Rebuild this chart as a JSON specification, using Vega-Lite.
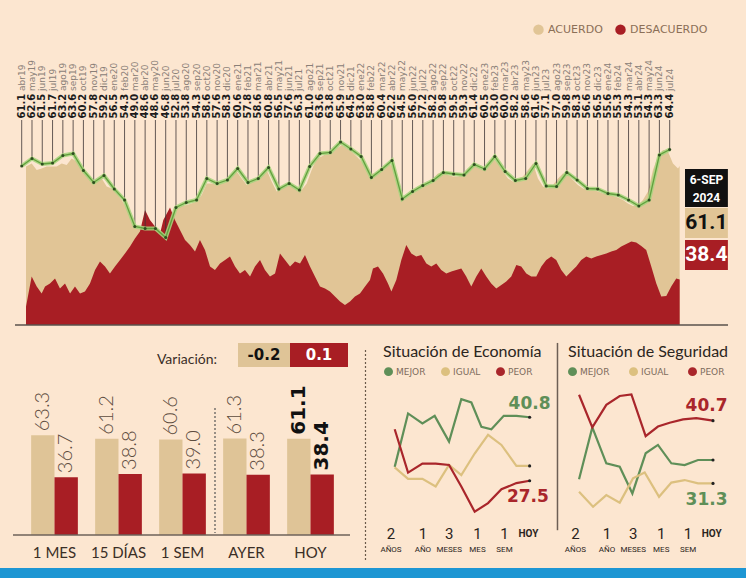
{
"$schema": "https://vega.github.io/schema/vega-lite/v6.json",
"padding": 0,
"background": "#fce6d0",
"config": {"view": {"stroke": null}, "concat": {"spacing": 0}, "axis": {"disable": true}},
"datasets": {
"hoy": [{"fecha": "6-SEP", "anio": "2024", "acuerdo": 61.1, "desacuerdo": 38.4, "var_acuerdo": "-0.2", "var_desacuerdo": "0.1"}],
"mensual": [
{"mes":"abr19","t":0,"acuerdo":61.1},{"mes":"may19","t":1,"acuerdo":62.6},{"mes":"jun19","t":2,"acuerdo":61.5},{"mes":"jul19","t":3,"acuerdo":61.7},{"mes":"ago19","t":4,"acuerdo":63.2},{"mes":"sep19","t":5,"acuerdo":63.6},{"mes":"oct19","t":6,"acuerdo":60.2},{"mes":"nov19","t":7,"acuerdo":57.8},{"mes":"dic19","t":8,"acuerdo":59.2},{"mes":"ene20","t":9,"acuerdo":56.5},{"mes":"feb20","t":10,"acuerdo":54.3},{"mes":"mar20","t":11,"acuerdo":49.0},{"mes":"abr20","t":12,"acuerdo":48.6},{"mes":"may20","t":13,"acuerdo":48.6},{"mes":"jun20","t":14,"acuerdo":46.8},{"mes":"jul20","t":15,"acuerdo":52.8},{"mes":"ago20","t":16,"acuerdo":53.8},{"mes":"sep20","t":17,"acuerdo":54.3},{"mes":"oct20","t":18,"acuerdo":58.6},{"mes":"nov20","t":19,"acuerdo":57.6},{"mes":"dic20","t":20,"acuerdo":58.3},{"mes":"ene21","t":21,"acuerdo":60.6},{"mes":"feb21","t":22,"acuerdo":57.8},{"mes":"mar21","t":23,"acuerdo":58.6},{"mes":"abr21","t":24,"acuerdo":60.8},{"mes":"may21","t":25,"acuerdo":56.5},{"mes":"jun21","t":26,"acuerdo":57.6},{"mes":"jul21","t":27,"acuerdo":56.3},{"mes":"ago21","t":28,"acuerdo":61.0},{"mes":"sep21","t":29,"acuerdo":63.6},{"mes":"oct21","t":30,"acuerdo":63.8},{"mes":"nov21","t":31,"acuerdo":65.9},{"mes":"dic21","t":32,"acuerdo":64.5},{"mes":"ene22","t":33,"acuerdo":63.0},{"mes":"feb22","t":34,"acuerdo":58.8},{"mes":"mar22","t":35,"acuerdo":60.4},{"mes":"abr22","t":36,"acuerdo":62.2},{"mes":"may22","t":37,"acuerdo":54.5},{"mes":"jun22","t":38,"acuerdo":56.0},{"mes":"jul22","t":39,"acuerdo":57.2},{"mes":"ago22","t":40,"acuerdo":58.2},{"mes":"sep22","t":41,"acuerdo":59.8},{"mes":"oct22","t":42,"acuerdo":59.5},{"mes":"nov22","t":43,"acuerdo":59.3},{"mes":"dic22","t":44,"acuerdo":61.4},{"mes":"ene23","t":45,"acuerdo":60.5},{"mes":"feb23","t":46,"acuerdo":63.0},{"mes":"mar23","t":47,"acuerdo":60.0},{"mes":"abr23","t":48,"acuerdo":58.2},{"mes":"may23","t":49,"acuerdo":58.6},{"mes":"jun23","t":50,"acuerdo":61.6},{"mes":"jul23","t":51,"acuerdo":57.1},{"mes":"ago23","t":52,"acuerdo":57.0},{"mes":"sep23","t":53,"acuerdo":59.8},{"mes":"oct23","t":54,"acuerdo":58.3},{"mes":"nov23","t":55,"acuerdo":56.6},{"mes":"dic23","t":56,"acuerdo":56.5},{"mes":"ene24","t":57,"acuerdo":55.6},{"mes":"feb24","t":58,"acuerdo":55.3},{"mes":"mar24","t":59,"acuerdo":54.3},{"mes":"abr24","t":60,"acuerdo":53.1},{"mes":"may24","t":61,"acuerdo":54.3},{"mes":"jun24","t":62,"acuerdo":63.3},{"mes":"jul24","t":63,"acuerdo":64.4}
],
"diario": [
{"t":0.42,"serie":"ACUERDO","pct":61.0},{"t":0.97,"serie":"ACUERDO","pct":61.6},{"t":1.46,"serie":"ACUERDO","pct":60.3},{"t":1.94,"serie":"ACUERDO","pct":60.6},{"t":2.43,"serie":"ACUERDO","pct":61.0},{"t":2.92,"serie":"ACUERDO","pct":61.0},{"t":3.40,"serie":"ACUERDO","pct":61.0},{"t":3.89,"serie":"ACUERDO","pct":61.6},{"t":4.37,"serie":"ACUERDO","pct":61.3},{"t":4.86,"serie":"ACUERDO","pct":62.6},{"t":5.35,"serie":"ACUERDO","pct":62.0},{"t":5.83,"serie":"ACUERDO","pct":60.3},{"t":6.32,"serie":"ACUERDO","pct":59.6},{"t":6.81,"serie":"ACUERDO","pct":58.0},{"t":7.29,"serie":"ACUERDO","pct":58.0},{"t":7.78,"serie":"ACUERDO","pct":58.6},{"t":8.26,"serie":"ACUERDO","pct":57.0},{"t":8.75,"serie":"ACUERDO","pct":56.6},{"t":9.24,"serie":"ACUERDO","pct":55.6},{"t":9.72,"serie":"ACUERDO","pct":54.3},{"t":10.21,"serie":"ACUERDO","pct":52.6},{"t":10.69,"serie":"ACUERDO","pct":50.3},{"t":11.18,"serie":"ACUERDO","pct":49.0},{"t":11.67,"serie":"ACUERDO","pct":48.6},{"t":12.15,"serie":"ACUERDO","pct":49.0},{"t":12.64,"serie":"ACUERDO","pct":48.3},{"t":13.12,"serie":"ACUERDO","pct":47.6},{"t":13.61,"serie":"ACUERDO","pct":46.6},{"t":14.10,"serie":"ACUERDO","pct":48.3},{"t":14.58,"serie":"ACUERDO","pct":51.0},{"t":15.07,"serie":"ACUERDO","pct":52.6},{"t":15.56,"serie":"ACUERDO","pct":53.1},{"t":16.04,"serie":"ACUERDO","pct":53.3},{"t":16.53,"serie":"ACUERDO","pct":53.6},{"t":17.01,"serie":"ACUERDO","pct":54.0},{"t":17.50,"serie":"ACUERDO","pct":55.3},{"t":17.99,"serie":"ACUERDO","pct":57.6},{"t":18.47,"serie":"ACUERDO","pct":57.6},{"t":18.96,"serie":"ACUERDO","pct":57.3},{"t":19.44,"serie":"ACUERDO","pct":57.6},{"t":19.93,"serie":"ACUERDO","pct":58.0},{"t":20.42,"serie":"ACUERDO","pct":59.3},{"t":20.90,"serie":"ACUERDO","pct":60.0},{"t":21.39,"serie":"ACUERDO","pct":58.6},{"t":21.87,"serie":"ACUERDO","pct":57.3},{"t":22.36,"serie":"ACUERDO","pct":58.0},{"t":22.85,"serie":"ACUERDO","pct":58.3},{"t":23.33,"serie":"ACUERDO","pct":59.0},{"t":23.82,"serie":"ACUERDO","pct":60.3},{"t":24.30,"serie":"ACUERDO","pct":58.0},{"t":24.79,"serie":"ACUERDO","pct":56.0},{"t":25.28,"serie":"ACUERDO","pct":56.6},{"t":25.76,"serie":"ACUERDO","pct":57.0},{"t":26.25,"serie":"ACUERDO","pct":57.3},{"t":26.74,"serie":"ACUERDO","pct":56.6},{"t":27.22,"serie":"ACUERDO","pct":56.3},{"t":27.71,"serie":"ACUERDO","pct":57.6},{"t":28.19,"serie":"ACUERDO","pct":60.3},{"t":28.68,"serie":"ACUERDO","pct":62.6},{"t":29.17,"serie":"ACUERDO","pct":63.0},{"t":29.65,"serie":"ACUERDO","pct":63.6},{"t":30.14,"serie":"ACUERDO","pct":63.6},{"t":30.62,"serie":"ACUERDO","pct":64.6},{"t":31.11,"serie":"ACUERDO","pct":65.3},{"t":31.60,"serie":"ACUERDO","pct":64.6},{"t":32.08,"serie":"ACUERDO","pct":64.0},{"t":32.57,"serie":"ACUERDO","pct":63.0},{"t":33.05,"serie":"ACUERDO","pct":62.0},{"t":33.54,"serie":"ACUERDO","pct":60.6},{"t":34.03,"serie":"ACUERDO","pct":59.6},{"t":34.64,"serie":"ACUERDO","pct":59.6},{"t":35.13,"serie":"ACUERDO","pct":60.6},{"t":35.61,"serie":"ACUERDO","pct":61.6},{"t":36.10,"serie":"ACUERDO","pct":61.0},{"t":36.58,"serie":"ACUERDO","pct":57.0},{"t":37.07,"serie":"ACUERDO","pct":54.4},{"t":37.55,"serie":"ACUERDO","pct":55.3},{"t":38.04,"serie":"ACUERDO","pct":56.3},{"t":38.53,"serie":"ACUERDO","pct":57.0},{"t":39.01,"serie":"ACUERDO","pct":57.3},{"t":39.50,"serie":"ACUERDO","pct":58.0},{"t":39.98,"serie":"ACUERDO","pct":58.6},{"t":40.47,"serie":"ACUERDO","pct":59.6},{"t":40.96,"serie":"ACUERDO","pct":59.8},{"t":41.44,"serie":"ACUERDO","pct":59.3},{"t":41.93,"serie":"ACUERDO","pct":59.0},{"t":42.42,"serie":"ACUERDO","pct":59.0},{"t":42.90,"serie":"ACUERDO","pct":59.3},{"t":43.39,"serie":"ACUERDO","pct":60.6},{"t":43.87,"serie":"ACUERDO","pct":61.3},{"t":44.36,"serie":"ACUERDO","pct":61.0},{"t":44.85,"serie":"ACUERDO","pct":60.3},{"t":45.33,"serie":"ACUERDO","pct":61.6},{"t":45.82,"serie":"ACUERDO","pct":62.6},{"t":46.30,"serie":"ACUERDO","pct":61.6},{"t":46.79,"serie":"ACUERDO","pct":60.0},{"t":47.28,"serie":"ACUERDO","pct":58.6},{"t":47.76,"serie":"ACUERDO","pct":58.0},{"t":48.25,"serie":"ACUERDO","pct":58.6},{"t":48.74,"serie":"ACUERDO","pct":59.0},{"t":49.22,"serie":"ACUERDO","pct":60.3},{"t":49.71,"serie":"ACUERDO","pct":61.6},{"t":50.19,"serie":"ACUERDO","pct":58.6},{"t":50.68,"serie":"ACUERDO","pct":57.0},{"t":51.17,"serie":"ACUERDO","pct":56.6},{"t":51.65,"serie":"ACUERDO","pct":57.3},{"t":52.14,"serie":"ACUERDO","pct":58.6},{"t":52.62,"serie":"ACUERDO","pct":59.6},{"t":53.11,"serie":"ACUERDO","pct":59.3},{"t":53.60,"serie":"ACUERDO","pct":58.3},{"t":54.08,"serie":"ACUERDO","pct":57.3},{"t":54.57,"serie":"ACUERDO","pct":56.6},{"t":55.06,"serie":"ACUERDO","pct":56.3},{"t":55.54,"serie":"ACUERDO","pct":56.3},{"t":56.03,"serie":"ACUERDO","pct":56.0},{"t":56.51,"serie":"ACUERDO","pct":55.6},{"t":57.00,"serie":"ACUERDO","pct":55.5},{"t":57.49,"serie":"ACUERDO","pct":55.1},{"t":57.97,"serie":"ACUERDO","pct":54.8},{"t":58.46,"serie":"ACUERDO","pct":54.3},{"t":58.94,"serie":"ACUERDO","pct":53.6},{"t":59.43,"serie":"ACUERDO","pct":53.1},{"t":59.92,"serie":"ACUERDO","pct":53.3},{"t":60.40,"serie":"ACUERDO","pct":54.3},{"t":60.89,"serie":"ACUERDO","pct":56.0},{"t":61.37,"serie":"ACUERDO","pct":60.3},{"t":61.86,"serie":"ACUERDO","pct":63.0},{"t":62.35,"serie":"ACUERDO","pct":64.3},{"t":62.83,"serie":"ACUERDO","pct":64.0},{"t":63.32,"serie":"ACUERDO","pct":61.6},{"t":63.81,"serie":"ACUERDO","pct":60.6},{"t":63.97,"serie":"ACUERDO","pct":61.1},
{"t":0.42,"serie":"DESACUERDO","pct":33.0},{"t":0.97,"serie":"DESACUERDO","pct":39.0},{"t":1.46,"serie":"DESACUERDO","pct":37.0},{"t":1.94,"serie":"DESACUERDO","pct":35.6},{"t":2.27,"serie":"DESACUERDO","pct":37.0},{"t":2.75,"serie":"DESACUERDO","pct":37.6},{"t":3.24,"serie":"DESACUERDO","pct":38.6},{"t":3.72,"serie":"DESACUERDO","pct":36.6},{"t":4.21,"serie":"DESACUERDO","pct":37.6},{"t":4.70,"serie":"DESACUERDO","pct":35.6},{"t":5.18,"serie":"DESACUERDO","pct":37.0},{"t":5.67,"serie":"DESACUERDO","pct":35.6},{"t":6.15,"serie":"DESACUERDO","pct":36.0},{"t":6.64,"serie":"DESACUERDO","pct":37.6},{"t":7.13,"serie":"DESACUERDO","pct":40.3},{"t":7.61,"serie":"DESACUERDO","pct":42.0},{"t":8.10,"serie":"DESACUERDO","pct":41.0},{"t":8.58,"serie":"DESACUERDO","pct":39.6},{"t":9.07,"serie":"DESACUERDO","pct":41.0},{"t":9.56,"serie":"DESACUERDO","pct":42.3},{"t":10.04,"serie":"DESACUERDO","pct":43.6},{"t":10.53,"serie":"DESACUERDO","pct":45.0},{"t":11.01,"serie":"DESACUERDO","pct":46.6},{"t":11.50,"serie":"DESACUERDO","pct":48.0},{"t":11.99,"serie":"DESACUERDO","pct":52.3},{"t":12.47,"serie":"DESACUERDO","pct":50.3},{"t":12.96,"serie":"DESACUERDO","pct":49.0},{"t":13.45,"serie":"DESACUERDO","pct":47.6},{"t":13.77,"serie":"DESACUERDO","pct":50.3},{"t":14.42,"serie":"DESACUERDO","pct":52.8},{"t":14.90,"serie":"DESACUERDO","pct":50.3},{"t":15.39,"serie":"DESACUERDO","pct":48.3},{"t":15.88,"serie":"DESACUERDO","pct":46.3},{"t":16.36,"serie":"DESACUERDO","pct":45.3},{"t":16.85,"serie":"DESACUERDO","pct":44.0},{"t":17.33,"serie":"DESACUERDO","pct":46.3},{"t":17.82,"serie":"DESACUERDO","pct":44.3},{"t":18.31,"serie":"DESACUERDO","pct":41.0},{"t":18.79,"serie":"DESACUERDO","pct":40.3},{"t":19.28,"serie":"DESACUERDO","pct":41.6},{"t":19.77,"serie":"DESACUERDO","pct":42.3},{"t":20.25,"serie":"DESACUERDO","pct":43.0},{"t":20.74,"serie":"DESACUERDO","pct":41.0},{"t":21.22,"serie":"DESACUERDO","pct":39.6},{"t":21.71,"serie":"DESACUERDO","pct":40.3},{"t":22.20,"serie":"DESACUERDO","pct":39.0},{"t":22.68,"serie":"DESACUERDO","pct":41.0},{"t":23.17,"serie":"DESACUERDO","pct":42.3},{"t":23.65,"serie":"DESACUERDO","pct":40.3},{"t":24.14,"serie":"DESACUERDO","pct":39.0},{"t":24.63,"serie":"DESACUERDO","pct":39.6},{"t":25.11,"serie":"DESACUERDO","pct":43.6},{"t":25.60,"serie":"DESACUERDO","pct":42.3},{"t":26.09,"serie":"DESACUERDO","pct":41.0},{"t":26.57,"serie":"DESACUERDO","pct":42.0},{"t":27.06,"serie":"DESACUERDO","pct":41.6},{"t":27.54,"serie":"DESACUERDO","pct":43.3},{"t":28.03,"serie":"DESACUERDO","pct":41.0},{"t":28.51,"serie":"DESACUERDO","pct":39.0},{"t":29.00,"serie":"DESACUERDO","pct":37.0},{"t":29.49,"serie":"DESACUERDO","pct":36.6},{"t":29.97,"serie":"DESACUERDO","pct":36.0},{"t":30.46,"serie":"DESACUERDO","pct":35.0},{"t":30.95,"serie":"DESACUERDO","pct":34.0},{"t":31.43,"serie":"DESACUERDO","pct":33.3},{"t":31.92,"serie":"DESACUERDO","pct":34.0},{"t":32.40,"serie":"DESACUERDO","pct":35.0},{"t":32.89,"serie":"DESACUERDO","pct":35.6},{"t":33.38,"serie":"DESACUERDO","pct":37.0},{"t":33.86,"serie":"DESACUERDO","pct":38.3},{"t":34.15,"serie":"DESACUERDO","pct":40.6},{"t":34.64,"serie":"DESACUERDO","pct":41.0},{"t":35.13,"serie":"DESACUERDO","pct":39.6},{"t":35.61,"serie":"DESACUERDO","pct":37.6},{"t":35.94,"serie":"DESACUERDO","pct":36.0},{"t":36.42,"serie":"DESACUERDO","pct":38.3},{"t":36.91,"serie":"DESACUERDO","pct":42.3},{"t":37.39,"serie":"DESACUERDO","pct":45.3},{"t":37.88,"serie":"DESACUERDO","pct":43.6},{"t":38.36,"serie":"DESACUERDO","pct":43.0},{"t":38.85,"serie":"DESACUERDO","pct":43.3},{"t":39.34,"serie":"DESACUERDO","pct":41.6},{"t":39.82,"serie":"DESACUERDO","pct":41.0},{"t":40.31,"serie":"DESACUERDO","pct":41.6},{"t":40.79,"serie":"DESACUERDO","pct":40.3},{"t":41.28,"serie":"DESACUERDO","pct":39.6},{"t":41.77,"serie":"DESACUERDO","pct":40.0},{"t":42.25,"serie":"DESACUERDO","pct":40.3},{"t":42.74,"serie":"DESACUERDO","pct":40.6},{"t":43.22,"serie":"DESACUERDO","pct":39.0},{"t":43.71,"serie":"DESACUERDO","pct":37.0},{"t":44.20,"serie":"DESACUERDO","pct":39.0},{"t":44.68,"serie":"DESACUERDO","pct":40.6},{"t":45.17,"serie":"DESACUERDO","pct":39.0},{"t":45.65,"serie":"DESACUERDO","pct":37.6},{"t":46.14,"serie":"DESACUERDO","pct":36.6},{"t":46.63,"serie":"DESACUERDO","pct":37.3},{"t":47.11,"serie":"DESACUERDO","pct":38.0},{"t":47.60,"serie":"DESACUERDO","pct":39.0},{"t":48.09,"serie":"DESACUERDO","pct":41.3},{"t":48.57,"serie":"DESACUERDO","pct":41.0},{"t":49.06,"serie":"DESACUERDO","pct":39.6},{"t":49.54,"serie":"DESACUERDO","pct":39.0},{"t":50.03,"serie":"DESACUERDO","pct":39.0},{"t":50.52,"serie":"DESACUERDO","pct":41.0},{"t":51.00,"serie":"DESACUERDO","pct":42.3},{"t":51.49,"serie":"DESACUERDO","pct":43.0},{"t":51.97,"serie":"DESACUERDO","pct":42.3},{"t":52.46,"serie":"DESACUERDO","pct":40.3},{"t":52.95,"serie":"DESACUERDO","pct":39.0},{"t":53.43,"serie":"DESACUERDO","pct":40.0},{"t":53.92,"serie":"DESACUERDO","pct":41.0},{"t":54.40,"serie":"DESACUERDO","pct":42.3},{"t":54.89,"serie":"DESACUERDO","pct":43.0},{"t":55.38,"serie":"DESACUERDO","pct":42.6},{"t":55.86,"serie":"DESACUERDO","pct":43.0},{"t":56.35,"serie":"DESACUERDO","pct":43.3},{"t":56.84,"serie":"DESACUERDO","pct":43.6},{"t":57.32,"serie":"DESACUERDO","pct":44.0},{"t":57.81,"serie":"DESACUERDO","pct":44.3},{"t":58.29,"serie":"DESACUERDO","pct":45.0},{"t":58.78,"serie":"DESACUERDO","pct":45.5},{"t":59.27,"serie":"DESACUERDO","pct":46.0},{"t":59.75,"serie":"DESACUERDO","pct":45.8},{"t":60.24,"serie":"DESACUERDO","pct":45.1},{"t":60.72,"serie":"DESACUERDO","pct":44.3},{"t":61.21,"serie":"DESACUERDO","pct":41.0},{"t":61.70,"serie":"DESACUERDO","pct":37.6},{"t":62.18,"serie":"DESACUERDO","pct":35.0},{"t":62.67,"serie":"DESACUERDO","pct":35.1},{"t":63.15,"serie":"DESACUERDO","pct":37.0},{"t":63.64,"serie":"DESACUERDO","pct":38.6},{"t":63.97,"serie":"DESACUERDO","pct":38.4}
],
"barras": [
{"periodo":"1 MES","serie":"ACUERDO","pct":63.3},{"periodo":"1 MES","serie":"DESACUERDO","pct":36.7},
{"periodo":"15 DÍAS","serie":"ACUERDO","pct":61.2},{"periodo":"15 DÍAS","serie":"DESACUERDO","pct":38.8},
{"periodo":"1 SEM","serie":"ACUERDO","pct":60.6},{"periodo":"1 SEM","serie":"DESACUERDO","pct":39.0},
{"periodo":"AYER","serie":"ACUERDO","pct":61.3},{"periodo":"AYER","serie":"DESACUERDO","pct":38.3},
{"periodo":"HOY","serie":"ACUERDO","pct":61.1},{"periodo":"HOY","serie":"DESACUERDO","pct":38.4}
],
"economia": [
{"t":0,"opinion":"MEJOR","pct":30.4},{"t":1.09,"opinion":"MEJOR","pct":41.6},{"t":2.26,"opinion":"MEJOR","pct":39.5},{"t":3.26,"opinion":"MEJOR","pct":41.1},{"t":4.43,"opinion":"MEJOR","pct":35.7},{"t":5.43,"opinion":"MEJOR","pct":44.6},{"t":6.25,"opinion":"MEJOR","pct":43.9},{"t":7.07,"opinion":"MEJOR","pct":38.8},{"t":7.88,"opinion":"MEJOR","pct":38.3},{"t":8.89,"opinion":"MEJOR","pct":41.1},{"t":9.92,"opinion":"MEJOR","pct":41.1},{"t":11,"opinion":"MEJOR","pct":40.8},
{"t":0,"opinion":"IGUAL","pct":30.3},{"t":1.09,"opinion":"IGUAL","pct":27.9},{"t":2.26,"opinion":"IGUAL","pct":27.9},{"t":3.34,"opinion":"IGUAL","pct":26.3},{"t":4.43,"opinion":"IGUAL","pct":30.8},{"t":5.43,"opinion":"IGUAL","pct":28.7},{"t":6.52,"opinion":"IGUAL","pct":33.2},{"t":7.61,"opinion":"IGUAL","pct":37.1},{"t":8.7,"opinion":"IGUAL","pct":35.0},{"t":9.92,"opinion":"IGUAL","pct":30.6},{"t":11,"opinion":"IGUAL","pct":30.6},
{"t":0,"opinion":"PEOR","pct":38.3},{"t":1.09,"opinion":"PEOR","pct":29.2},{"t":2.26,"opinion":"PEOR","pct":31.1},{"t":3.34,"opinion":"PEOR","pct":31.1},{"t":4.43,"opinion":"PEOR","pct":30.8},{"t":5.43,"opinion":"PEOR","pct":26.3},{"t":6.52,"opinion":"PEOR","pct":21.0},{"t":7.61,"opinion":"PEOR","pct":22.8},{"t":8.7,"opinion":"PEOR","pct":25.7},{"t":9.92,"opinion":"PEOR","pct":27.0},{"t":11,"opinion":"PEOR","pct":27.5}
],
"seguridad": [
{"t":0,"opinion":"MEJOR","pct":26.7},{"t":1.09,"opinion":"MEJOR","pct":39.1},{"t":2.24,"opinion":"MEJOR","pct":30.5},{"t":3.34,"opinion":"MEJOR","pct":29.7},{"t":4.38,"opinion":"MEJOR","pct":23.3},{"t":5.47,"opinion":"MEJOR","pct":32.9},{"t":6.48,"opinion":"MEJOR","pct":34.9},{"t":7.58,"opinion":"MEJOR","pct":30.5},{"t":8.67,"opinion":"MEJOR","pct":30.1},{"t":9.77,"opinion":"MEJOR","pct":31.3},{"t":11,"opinion":"MEJOR","pct":31.3},
{"t":0,"opinion":"IGUAL","pct":23.7},{"t":1.15,"opinion":"IGUAL","pct":20.1},{"t":2.24,"opinion":"IGUAL","pct":22.9},{"t":3.34,"opinion":"IGUAL","pct":21.1},{"t":4.43,"opinion":"IGUAL","pct":26.9},{"t":5.39,"opinion":"IGUAL","pct":28.3},{"t":6.57,"opinion":"IGUAL","pct":22.5},{"t":7.58,"opinion":"IGUAL","pct":25.9},{"t":8.67,"opinion":"IGUAL","pct":26.5},{"t":9.77,"opinion":"IGUAL","pct":25.7},{"t":11,"opinion":"IGUAL","pct":25.7},
{"t":0,"opinion":"PEOR","pct":46.9},{"t":1.09,"opinion":"PEOR","pct":39.1},{"t":2.24,"opinion":"PEOR","pct":44.5},{"t":3.34,"opinion":"PEOR","pct":46.6},{"t":4.3,"opinion":"PEOR","pct":47.0},{"t":5.47,"opinion":"PEOR","pct":37.0},{"t":6.48,"opinion":"PEOR","pct":39.3},{"t":7.44,"opinion":"PEOR","pct":40.2},{"t":8.54,"opinion":"PEOR","pct":41.0},{"t":9.63,"opinion":"PEOR","pct":41.3},{"t":11,"opinion":"PEOR","pct":40.7}
],
"plazos": [
{"t":-0.3,"num":"2","unidad":"AÑOS"},{"t":2.3,"num":"1","unidad":"AÑO"},{"t":4.45,"num":"3","unidad":"MESES"},{"t":6.75,"num":"1","unidad":"MES"},{"t":8.95,"num":"1","unidad":"SEM"},{"t":10.9,"num":"HOY","unidad":""}
]
},
"spacing": 0,
"bounds": "full",
"resolve": {"scale": {"color": "independent"}, "legend": {"color": "independent"}},
"vconcat": [
{
"width": 746, "height": 335,
"layer": [
{"data": {"name": "diario"}, "transform": [{"filter": "datum.serie == 'ACUERDO'"}],
 "mark": {"type": "area"},
 "encoding": {
  "x": {"field": "t", "type": "quantitative", "scale": {"domain": [-2.11, 70.42], "nice": false, "zero": false}, "axis": null},
  "y": {"field": "pct", "type": "quantitative", "stack": null, "scale": {"domain": [27.3, 94.3], "nice": false, "zero": false}, "axis": null},
  "y2": {"datum": 29.3},
  "color": {"field": "serie", "type": "nominal", "scale": {"domain": ["ACUERDO", "DESACUERDO"], "range": ["#e1c596", "#a81e24"]},
   "legend": {"title": null, "orient": "none", "legendX": 533, "legendY": 24, "direction": "horizontal", "symbolType": "circle", "symbolSize": 110, "symbolStrokeWidth": 0, "labelFontSize": 11, "labelFont": "DejaVu Sans", "labelColor": "#8b6f57", "columnPadding": 12, "labelOffset": 4}}
 }},
{"data": {"name": "diario"}, "transform": [{"filter": "datum.serie == 'DESACUERDO'"}],
 "mark": {"type": "area"},
 "encoding": {
  "x": {"field": "t", "type": "quantitative", "axis": null},
  "y": {"field": "pct", "type": "quantitative", "stack": null, "axis": null},
  "y2": {"datum": 29.3},
  "color": {"field": "serie", "type": "nominal"}
 }},
{"data": {"name": "hoy"}, "mark": {"type": "rule", "color": "#5a524c", "strokeWidth": 1.5},
 "encoding": {"x": {"datum": -0.65, "type": "quantitative", "axis": null}, "x2": {"datum": 68.67}, "y": {"datum": 29.3, "type": "quantitative", "axis": null}}},
{"data": {"name": "mensual"}, "mark": {"type": "rule", "color": "#3d3535", "strokeWidth": 0.8},
 "encoding": {"x": {"field": "t", "type": "quantitative", "axis": null}, "y": {"field": "acuerdo", "type": "quantitative", "axis": null}, "y2": {"datum": 70.3}}},
{"data": {"name": "mensual"}, "mark": {"type": "line", "color": "#a9d47e", "strokeWidth": 4, "opacity": 0.9},
 "encoding": {"x": {"field": "t", "type": "quantitative", "axis": null}, "y": {"field": "acuerdo", "type": "quantitative", "axis": null}}},
{"data": {"name": "mensual"}, "mark": {"type": "line", "color": "#62a03e", "strokeWidth": 1.3},
 "encoding": {"x": {"field": "t", "type": "quantitative", "axis": null}, "y": {"field": "acuerdo", "type": "quantitative", "axis": null}}},
{"data": {"name": "mensual"}, "mark": {"type": "point", "filled": true, "color": "#2e4d1f", "size": 9, "opacity": 1},
 "encoding": {"x": {"field": "t", "type": "quantitative", "axis": null}, "y": {"field": "acuerdo", "type": "quantitative", "axis": null}}},
{"data": {"name": "mensual"}, "mark": {"type": "text", "angle": 270, "align": "left", "baseline": "middle", "font": "DejaVu Sans", "fontWeight": "bold", "fontSize": 10, "color": "#1c1c1c"},
 "encoding": {"x": {"field": "t", "type": "quantitative", "axis": null}, "y": {"datum": 70.6, "type": "quantitative", "axis": null}, "text": {"field": "acuerdo", "type": "quantitative", "format": ".1f"}}},
{"data": {"name": "mensual"}, "mark": {"type": "text", "angle": 270, "align": "left", "baseline": "middle", "font": "DejaVu Sans", "fontSize": 9, "color": "#8a8078"},
 "encoding": {"x": {"field": "t", "type": "quantitative", "axis": null}, "y": {"datum": 76.1, "type": "quantitative", "axis": null}, "text": {"field": "mes", "type": "nominal"}}},
{"data": {"name": "hoy"}, "mark": {"type": "rect", "color": "#111111"},
 "encoding": {"x": {"datum": 64.49, "type": "quantitative", "axis": null}, "x2": {"datum": 68.66}, "y": {"datum": 60.5, "type": "quantitative", "axis": null}, "y2": {"datum": 52.9}}},
{"data": {"name": "hoy"}, "mark": {"type": "rect", "color": "#e1c596"},
 "encoding": {"x": {"datum": 64.49, "type": "quantitative", "axis": null}, "x2": {"datum": 68.66}, "y": {"datum": 52.7, "type": "quantitative", "axis": null}, "y2": {"datum": 46.7}}},
{"data": {"name": "hoy"}, "mark": {"type": "rect", "color": "#a81e24"},
 "encoding": {"x": {"datum": 64.49, "type": "quantitative", "axis": null}, "x2": {"datum": 68.66}, "y": {"datum": 46.3, "type": "quantitative", "axis": null}, "y2": {"datum": 40.3}}},
{"data": {"name": "hoy"}, "mark": {"type": "text", "align": "center", "baseline": "middle", "font": "Roboto", "fontWeight": "bold", "fontSize": 12, "color": "#ffffff"},
 "encoding": {"x": {"datum": 66.57, "type": "quantitative", "axis": null}, "y": {"datum": 58.3, "type": "quantitative", "axis": null}, "text": {"field": "fecha", "type": "nominal"}}},
{"data": {"name": "hoy"}, "mark": {"type": "text", "align": "center", "baseline": "middle", "font": "Roboto", "fontWeight": "bold", "fontSize": 12, "color": "#ffffff"},
 "encoding": {"x": {"datum": 66.57, "type": "quantitative", "axis": null}, "y": {"datum": 54.8, "type": "quantitative", "axis": null}, "text": {"field": "anio", "type": "nominal"}}},
{"data": {"name": "hoy"}, "mark": {"type": "text", "align": "center", "baseline": "middle", "font": "Roboto", "fontWeight": "bold", "fontSize": 21, "color": "#111111"},
 "encoding": {"x": {"datum": 66.57, "type": "quantitative", "axis": null}, "y": {"datum": 49.7, "type": "quantitative", "axis": null}, "text": {"field": "acuerdo", "type": "quantitative", "format": ".1f"}}},
{"data": {"name": "hoy"}, "mark": {"type": "text", "align": "center", "baseline": "middle", "font": "Roboto", "fontWeight": "bold", "fontSize": 21, "color": "#ffffff"},
 "encoding": {"x": {"datum": 66.57, "type": "quantitative", "axis": null}, "y": {"datum": 43.3, "type": "quantitative", "axis": null}, "text": {"field": "desacuerdo", "type": "quantitative", "format": ".1f"}}}
]
},
{
"hconcat": [
{
"width": 365, "height": 233,
"resolve": {"scale": {"x": "independent"}},
"layer": [
{"data": {"name": "barras"},
 "layer": [
 {"mark": {"type": "bar"},
  "encoding": {
   "x": {"field": "periodo", "type": "nominal", "scale": {"domain": ["1 MES", "15 DÍAS", "1 SEM", "AYER", "HOY"], "paddingInner": 0.27, "paddingOuter": 0.4866}, "axis": null},
   "xOffset": {"field": "serie", "type": "nominal", "scale": {"domain": ["ACUERDO", "DESACUERDO"]}},
   "y": {"field": "pct", "type": "quantitative", "scale": {"domain": [-20.95, 127], "nice": false, "zero": false}, "axis": null},
   "y2": {"datum": 0},
   "color": {"field": "serie", "type": "nominal", "scale": {"domain": ["ACUERDO", "DESACUERDO"], "range": ["#dfc497", "#a81e24"]}, "legend": null}
  }},
 {"transform": [{"filter": "datum.periodo != 'HOY'"}],
  "mark": {"type": "text", "angle": 270, "align": "left", "baseline": "middle", "dx": 4, "font": "Lato", "fontWeight": 300, "fontSize": 20, "color": "#5c4c3e"},
  "encoding": {
   "x": {"field": "periodo", "type": "nominal", "axis": null},
   "xOffset": {"field": "serie", "type": "nominal"},
   "y": {"field": "pct", "type": "quantitative", "axis": null},
   "text": {"field": "pct", "type": "quantitative", "format": ".1f"}
  }},
 {"transform": [{"filter": "datum.periodo == 'HOY'"}],
  "mark": {"type": "text", "angle": 270, "align": "left", "baseline": "middle", "dx": 4, "font": "DejaVu Sans", "fontWeight": "bold", "fontSize": 20, "color": "#111111"},
  "encoding": {
   "x": {"field": "periodo", "type": "nominal", "axis": null},
   "xOffset": {"field": "serie", "type": "nominal"},
   "y": {"field": "pct", "type": "quantitative", "axis": null},
   "text": {"field": "pct", "type": "quantitative", "format": ".1f"}
  }},
 {"transform": [{"filter": "datum.serie == 'ACUERDO'"}],
  "mark": {"type": "text", "align": "center", "baseline": "middle", "font": "Lato", "fontSize": 15, "color": "#3a2e26"},
  "encoding": {
   "x": {"field": "periodo", "type": "nominal", "axis": null},
   "y": {"datum": -11.4, "type": "quantitative", "axis": null},
   "text": {"field": "periodo", "type": "nominal"}
  }}
 ]},
{"data": {"name": "hoy"},
 "layer": [
 {"mark": {"type": "rule", "color": "#6e625a", "strokeWidth": 1.5},
  "encoding": {"x": {"datum": 13, "type": "quantitative", "scale": {"domain": [0, 365], "nice": false, "zero": false}, "axis": null}, "x2": {"datum": 350}, "y": {"datum": 0, "type": "quantitative", "axis": null}}},
 {"mark": {"type": "rule", "color": "#555555", "strokeWidth": 1.2, "strokeDash": [2, 2]},
  "encoding": {"x": {"datum": 215, "type": "quantitative", "axis": null}, "y": {"datum": 80.6, "type": "quantitative", "axis": null}, "y2": {"datum": 1.3}}},
 {"mark": {"type": "text", "align": "right", "baseline": "middle", "font": "Lato", "fontSize": 14, "color": "#3a2e26", "text": "Variación:"},
  "encoding": {"x": {"datum": 217, "type": "quantitative", "axis": null}, "y": {"datum": 111.1, "type": "quantitative", "axis": null}}},
 {"mark": {"type": "rect", "color": "#dfc497"},
  "encoding": {"x": {"datum": 238, "type": "quantitative", "axis": null}, "x2": {"datum": 290}, "y": {"datum": 121.9, "type": "quantitative", "axis": null}, "y2": {"datum": 106.7}}},
 {"mark": {"type": "rect", "color": "#a81e24"},
  "encoding": {"x": {"datum": 290, "type": "quantitative", "axis": null}, "x2": {"datum": 348}, "y": {"datum": 121.9, "type": "quantitative", "axis": null}, "y2": {"datum": 106.7}}},
 {"mark": {"type": "text", "align": "center", "baseline": "middle", "font": "DejaVu Sans", "fontWeight": "bold", "fontSize": 15, "color": "#111111"},
  "encoding": {"x": {"datum": 264, "type": "quantitative", "axis": null}, "y": {"datum": 114.3, "type": "quantitative", "axis": null}, "text": {"field": "var_acuerdo", "type": "nominal"}}},
 {"mark": {"type": "text", "align": "center", "baseline": "middle", "font": "DejaVu Sans", "fontWeight": "bold", "fontSize": 15, "color": "#ffffff"},
  "encoding": {"x": {"datum": 319, "type": "quantitative", "axis": null}, "y": {"datum": 114.3, "type": "quantitative", "axis": null}, "text": {"field": "var_desacuerdo", "type": "nominal"}}}
 ]}
]
},
{
"width": 192, "height": 233,
"layer": [
{"data": {"name": "hoy"}, "mark": {"type": "rule", "color": "#6a5a4a", "strokeWidth": 1.2, "strokeDash": [2, 2]},
 "encoding": {"x": {"datum": -2.38, "type": "quantitative", "scale": {"domain": [-2.42, 13.23], "nice": false, "zero": false}, "axis": null}, "y": {"datum": 54.9, "type": "quantitative", "scale": {"domain": [9.2, 58.05], "nice": false, "zero": false}, "axis": null}, "y2": {"datum": 10.5}}},
{"data": {"name": "economia"}, "mark": {"type": "line", "strokeWidth": 2.2},
 "encoding": {"x": {"field": "t", "type": "quantitative", "axis": null}, "y": {"field": "pct", "type": "quantitative", "axis": null},
  "color": {"field": "opinion", "type": "nominal", "scale": {"domain": ["MEJOR", "IGUAL", "PEOR"], "range": ["#5f8f58", "#dcc07f", "#a9262b"]},
   "legend": {"title": null, "orient": "none", "legendX": 19, "legendY": 32, "direction": "horizontal", "symbolType": "circle", "symbolSize": 20, "symbolStrokeWidth": 4.5, "labelFontSize": 9, "labelFont": "DejaVu Sans", "labelColor": "#7d6b5c", "columnPadding": 8, "labelOffset": 3}}}},
{"data": {"name": "economia"}, "transform": [{"filter": "datum.t == 11"}], "mark": {"type": "point", "filled": true, "color": "#222222", "size": 10, "opacity": 1},
 "encoding": {"x": {"field": "t", "type": "quantitative", "axis": null}, "y": {"field": "pct", "type": "quantitative", "axis": null}}},
{"data": {"name": "economia"}, "transform": [{"filter": "datum.t == 11 && datum.opinion == 'MEJOR'"}], "mark": {"type": "text", "align": "center", "baseline": "middle", "font": "DejaVu Sans", "fontWeight": "bold", "fontSize": 17, "color": "#5f8f58"},
 "encoding": {"x": {"datum": 10.99, "type": "quantitative", "axis": null}, "y": {"datum": 43.6, "type": "quantitative", "axis": null}, "text": {"field": "pct", "type": "quantitative", "format": ".1f"}}},
{"data": {"name": "economia"}, "transform": [{"filter": "datum.t == 11 && datum.opinion == 'PEOR'"}], "mark": {"type": "text", "align": "center", "baseline": "middle", "font": "DejaVu Sans", "fontWeight": "bold", "fontSize": 17, "color": "#a9262b"},
 "encoding": {"x": {"datum": 10.86, "type": "quantitative", "axis": null}, "y": {"datum": 24.1, "type": "quantitative", "axis": null}, "text": {"field": "pct", "type": "quantitative", "format": ".1f"}}},
{"data": {"name": "hoy"}, "mark": {"type": "text", "align": "left", "baseline": "middle", "font": "Lato", "fontSize": 16, "color": "#2b2520", "text": "Situación de Economía"},
 "encoding": {"x": {"datum": -0.95, "type": "quantitative", "axis": null}, "y": {"datum": 54.5, "type": "quantitative", "axis": null}}},
{"data": {"name": "plazos"}, "transform": [{"filter": "datum.num != 'HOY'"}], "mark": {"type": "text", "align": "center", "baseline": "middle", "font": "Roboto", "fontSize": 15, "color": "#2a2420"},
 "encoding": {"x": {"field": "t", "type": "quantitative", "axis": null}, "y": {"datum": 16.3, "type": "quantitative", "axis": null}, "text": {"field": "num", "type": "nominal"}}},
{"data": {"name": "plazos"}, "transform": [{"filter": "datum.num == 'HOY'"}], "mark": {"type": "text", "align": "center", "baseline": "middle", "font": "Roboto", "fontWeight": "bold", "fontSize": 10, "color": "#2a2420"},
 "encoding": {"x": {"field": "t", "type": "quantitative", "axis": null}, "y": {"datum": 16.3, "type": "quantitative", "axis": null}, "text": {"field": "num", "type": "nominal"}}},
{"data": {"name": "plazos"}, "mark": {"type": "text", "align": "center", "baseline": "middle", "font": "Roboto", "fontSize": 8, "color": "#2a2420"},
 "encoding": {"x": {"field": "t", "type": "quantitative", "axis": null}, "y": {"datum": 13.0, "type": "quantitative", "axis": null}, "text": {"field": "unidad", "type": "nominal"}}}
]
},
{
"width": 189, "height": 233,
"layer": [
{"data": {"name": "hoy"}, "mark": {"type": "rule", "color": "#6d5f55", "strokeWidth": 1.5},
 "encoding": {"x": {"datum": -1.77, "type": "quantitative", "scale": {"domain": [-1.81, 13.71], "nice": false, "zero": false}, "axis": null}, "y": {"datum": 59.3, "type": "quantitative", "scale": {"domain": [5.46, 61.2], "nice": false, "zero": false}, "axis": null}, "y2": {"datum": 14.5}}},
{"data": {"name": "seguridad"}, "mark": {"type": "line", "strokeWidth": 2.2},
 "encoding": {"x": {"field": "t", "type": "quantitative", "axis": null}, "y": {"field": "pct", "type": "quantitative", "axis": null},
  "color": {"field": "opinion", "type": "nominal", "scale": {"domain": ["MEJOR", "IGUAL", "PEOR"], "range": ["#5f8f58", "#dcc07f", "#a9262b"]},
   "legend": {"title": null, "orient": "none", "legendX": 11, "legendY": 32, "direction": "horizontal", "symbolType": "circle", "symbolSize": 20, "symbolStrokeWidth": 4.5, "labelFontSize": 9, "labelFont": "DejaVu Sans", "labelColor": "#7d6b5c", "columnPadding": 12, "labelOffset": 3}}}},
{"data": {"name": "seguridad"}, "transform": [{"filter": "datum.t == 11"}], "mark": {"type": "point", "filled": true, "color": "#222222", "size": 10, "opacity": 1},
 "encoding": {"x": {"field": "t", "type": "quantitative", "axis": null}, "y": {"field": "pct", "type": "quantitative", "axis": null}}},
{"data": {"name": "seguridad"}, "transform": [{"filter": "datum.t == 11 && datum.opinion == 'PEOR'"}], "mark": {"type": "text", "align": "center", "baseline": "middle", "font": "DejaVu Sans", "fontWeight": "bold", "fontSize": 17, "color": "#a9262b"},
 "encoding": {"x": {"datum": 10.47, "type": "quantitative", "axis": null}, "y": {"datum": 44.2, "type": "quantitative", "axis": null}, "text": {"field": "pct", "type": "quantitative", "format": ".1f"}}},
{"data": {"name": "seguridad"}, "transform": [{"filter": "datum.t == 11 && datum.opinion == 'MEJOR'"}], "mark": {"type": "text", "align": "center", "baseline": "middle", "font": "DejaVu Sans", "fontWeight": "bold", "fontSize": 17, "color": "#5f8f58"},
 "encoding": {"x": {"datum": 10.47, "type": "quantitative", "axis": null}, "y": {"datum": 21.7, "type": "quantitative", "axis": null}, "text": {"field": "pct", "type": "quantitative", "format": ".1f"}}},
{"data": {"name": "hoy"}, "mark": {"type": "text", "align": "left", "baseline": "middle", "font": "Lato", "fontSize": 16, "color": "#2b2520", "text": "Situación de Seguridad"},
 "encoding": {"x": {"datum": -0.9, "type": "quantitative", "axis": null}, "y": {"datum": 57.1, "type": "quantitative", "axis": null}}},
{"data": {"name": "plazos"}, "transform": [{"filter": "datum.num != 'HOY'"}], "mark": {"type": "text", "align": "center", "baseline": "middle", "font": "Roboto", "fontSize": 15, "color": "#2a2420"},
 "encoding": {"x": {"field": "t", "type": "quantitative", "axis": null}, "y": {"datum": 13.6, "type": "quantitative", "axis": null}, "text": {"field": "num", "type": "nominal"}}},
{"data": {"name": "plazos"}, "transform": [{"filter": "datum.num == 'HOY'"}], "mark": {"type": "text", "align": "center", "baseline": "middle", "font": "Roboto", "fontWeight": "bold", "fontSize": 10, "color": "#2a2420"},
 "encoding": {"x": {"field": "t", "type": "quantitative", "axis": null}, "y": {"datum": 13.6, "type": "quantitative", "axis": null}, "text": {"field": "num", "type": "nominal"}}},
{"data": {"name": "plazos"}, "mark": {"type": "text", "align": "center", "baseline": "middle", "font": "Roboto", "fontSize": 8, "color": "#2a2420"},
 "encoding": {"x": {"field": "t", "type": "quantitative", "axis": null}, "y": {"datum": 9.8, "type": "quantitative", "axis": null}, "text": {"field": "unidad", "type": "nominal"}}}
]
}
],
"spacing": 0,
"bounds": "flush",
"resolve": {"scale": {"color": "independent"}, "legend": {"color": "independent"}}
},
{
"width": 746, "height": 10,
"data": {"name": "hoy"},
"mark": {"type": "rect", "color": "#1d96d3"},
"encoding": {
 "x": {"datum": 0, "type": "quantitative", "scale": {"domain": [0, 1], "nice": false, "zero": false}, "axis": null},
 "x2": {"datum": 1},
 "y": {"datum": 0, "type": "quantitative", "scale": {"domain": [0, 1], "nice": false, "zero": false}, "axis": null},
 "y2": {"datum": 1}
}
}
]
}
